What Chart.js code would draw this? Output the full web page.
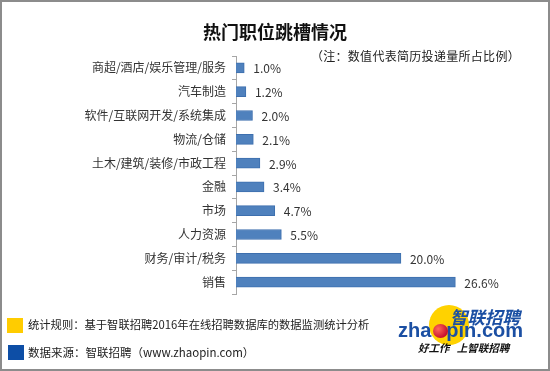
<!DOCTYPE html>
<html>
<head>
<meta charset="utf-8">
<script src="https://cdn.jsdelivr.net/npm/chart.js@4/dist/chart.umd.min.js"></script>
<style>
  html, body { margin: 0; padding: 0; background: #fff; }
  #wrap { position: relative; width: 550px; height: 371px; overflow: hidden;
          font-family: 'Noto Sans CJK SC', 'Noto Sans', sans-serif; }
  #frame { position: absolute; left: 0; top: 0; width: 546px; height: 367px;
           border: 2px solid #8c8c8c; pointer-events: none; }
  #chart { position: absolute; left: 0; top: 0; }
  .title { position: absolute; left: 0; width: 550px; top: 18px; text-align: center;
           font-size: 18px; font-weight: bold; color: #111; }
  .note { position: absolute; right: 30px; top: 47px; font-size: 12px; letter-spacing: 0.3px; color: #222; }
  .foot { position: absolute; left: 28px; font-size: 11.5px; color: #222; white-space: nowrap; }
  .sq { position: absolute; width: 16px; height: 15px; }
  .logo-circle { position: absolute; left: 429px; top: 305px; width: 40px; height: 40px;
                 border-radius: 50%; background: #ffd200; }
  .logo-ball { position: absolute; left: 433px; top: 324px; width: 15px; height: 14px;
               border-radius: 50%; background: radial-gradient(circle at 35% 35%, #ff6a5a, #c8102e 70%); }
  .logo-cn { position: absolute; left: 450px; top: 308px; font-size: 17.5px; line-height: 18px; font-weight: bold;
             color: #1b4fa3; font-style: italic; white-space: nowrap; }
  .logo-en { position: absolute; left: 398px; top: 320px; font-size: 20px; line-height: 20px; font-weight: bold;
             color: #1b4fa3; font-family: 'Liberation Sans', sans-serif; white-space: nowrap; }
  .logo-tag { position: absolute; left: 418px; top: 342px; font-size: 10.5px; line-height: 12px; font-weight: bold;
              font-style: italic; color: #111; white-space: nowrap; }
</style>
</head>
<body>
<div id="wrap">
  <canvas id="chart" width="550" height="371"></canvas>
  <div class="title">热门职位跳槽情况</div>
  <div class="note">（注：数值代表简历投递量所占比例）</div>
  <div class="sq" style="left:7px; top:318px; background:#ffcc00;"></div>
  <div class="foot" style="top:316px; font-size:11.3px;">统计规则：基于智联招聘2016年在线招聘数据库的数据监测统计分析</div>
  <div class="sq" style="left:8px; top:345px; background:#0d4ea6;"></div>
  <div class="foot" style="top:344px;">数据来源：智联招聘（www.zhaopin.com）</div>
  <div class="logo-circle"></div>
  <div class="logo-en">zha<span style="display:inline-block; width:15px;"></span>pin.com</div>
  <div class="logo-ball"></div>
  <div class="logo-cn">智联招聘</div>
  <div class="logo-tag">好工作&nbsp;&nbsp;&nbsp;上智联招聘</div>
  <div id="frame"></div>
</div>
<script>
  // ── Data ─────────────────────────────────────────────
  const CATEGORIES = ['商超/酒店/娱乐管理/服务', '汽车制造', '软件/互联网开发/系统集成', '物流/仓储',
                      '土木/建筑/装修/市政工程', '金融', '市场', '人力资源', '财务/审计/税务', '销售'];
  const SHARES = [1.0, 1.2, 2.0, 2.1, 2.9, 3.4, 4.7, 5.5, 20.0, 26.6];

  const FONT = "'Noto Sans CJK SC', 'Noto Sans', sans-serif";

  // value labels at bar ends
  const valueLabels = {
    id: 'valueLabels',
    afterDatasetsDraw(chart) {
      const ctx = chart.ctx;
      const meta = chart.getDatasetMeta(0);
      ctx.save();
      ctx.font = '12px ' + FONT;
      ctx.fillStyle = '#333';
      ctx.textBaseline = 'middle';
      ctx.textAlign = 'left';
      meta.data.forEach((bar, i) => {
        ctx.fillText(SHARES[i].toFixed(1) + '%', bar.x + 9, bar.y + 1);
      });
      ctx.restore();
    }
  };

  new Chart(document.getElementById('chart'), {
    type: 'bar',
    data: {
      labels: CATEGORIES,
      datasets: [{
        data: SHARES,
        backgroundColor: '#4f81bd',
        borderColor: '#3d6fae',
        borderWidth: 1,
        barThickness: 10
      }]
    },
    options: {
      indexAxis: 'y',
      responsive: false,
      animation: false,
      layout: { padding: { left: 0, right: 27, top: 56, bottom: 77 } },
      plugins: { legend: { display: false }, tooltip: { enabled: false } },
      scales: {
        x: { display: false, min: 0, max: 34.8 },
        y: {
          afterFit: (s) => { s.width = 236; },
          border: { display: true, color: '#a6a6a6', width: 1 },
          grid: { drawOnChartArea: false, drawTicks: true, tickLength: 4, color: '#a6a6a6', offset: true },
          ticks: { font: { family: FONT, size: 12 }, color: '#333', padding: 6 }
        }
      }
    },
    plugins: [valueLabels]
  });
</script>
</body>
</html>
